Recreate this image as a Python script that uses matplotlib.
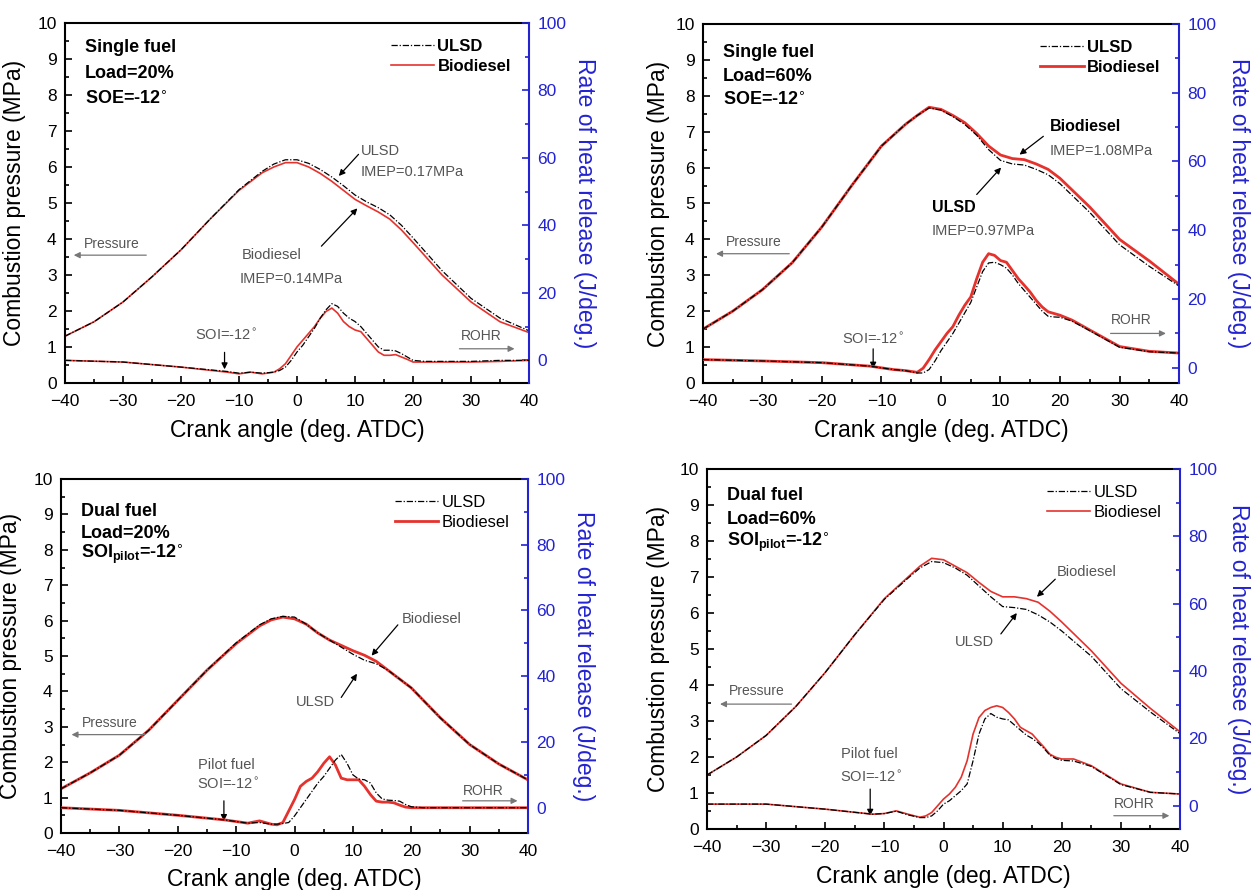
import matplotlib.pyplot as plt
from matplotlib.ticker import MultipleLocator

plt.rcParams['font.family'] = ['Liberation Sans', 'DejaVu Sans']

RED = '#e5322d'
BLUE = '#2323d2'
GREY = '#555555'

# crank angle grids (deg. ATDC)
ang_p = [-40, -35, -30, -25, -20, -15, -10, -6, -4, -2, 0, 2, 4, 6, 8, 10,
         12, 14, 16, 18, 20, 25, 30, 35, 40]
ang_r = [-40, -30, -20, -12, -10, -8, -6, -4, -3, -2, -1, 0, 1, 2, 3, 4, 5,
         6, 7, 8, 9, 10, 11, 12, 13, 14, 15, 16, 17, 18, 19, 20, 22, 25, 30,
         35, 40]

# single fuel, load 20 %
sf20_p_ulsd = [1.3, 1.7, 2.25, 2.95, 3.7, 4.55, 5.37, 5.88, 6.08, 6.2, 6.2,
               6.1, 5.93, 5.72, 5.48, 5.22, 5.03, 4.87, 4.67, 4.38, 4.03, 3.12,
               2.35, 1.8, 1.45]
sf20_p_bio = [1.3, 1.7, 2.25, 2.95, 3.7, 4.55, 5.35, 5.84, 6.0, 6.12, 6.12,
              6.0, 5.82, 5.6, 5.35, 5.1, 4.92, 4.75, 4.55, 4.25, 3.9, 3.0,
              2.25, 1.7, 1.4]
sf20_r_ulsd = [0, -0.5, -2, -3.3, -3.8, -3.5, -3.8, -3.5, -3, -2, 0, 2.5, 4.5,
               7, 9.5, 12.5, 15, 16.8, 16, 14, 12.5, 11.5, 10, 8, 6, 4, 3, 3,
               2.8, 2, 1, 0, -0.3, -0.3, -0.3, 0, 0]
sf20_r_bio = [0, -0.5, -2, -3.5, -4, -3.5, -4, -3.5, -2.5, -1, 1.5, 4, 6, 8,
              10, 12.5, 14.5, 15.5, 14, 11.5, 10, 9, 8.5, 6.5, 4.5, 2.5, 1.5,
              1.5, 1.7, 1, 0.3, -0.5, -0.5, -0.5, -0.5, -0.3, 0]

# single fuel, load 60 %
sf60_p_ulsd = [1.5, 2.0, 2.6, 3.35, 4.35, 5.5, 6.6, 7.2, 7.45, 7.66, 7.6, 7.42,
               7.2, 6.9, 6.5, 6.2, 6.1, 6.07, 5.95, 5.8, 5.55, 4.75, 3.85, 3.25,
               2.7]
sf60_p_bio = [1.5, 2.0, 2.6, 3.35, 4.35, 5.5, 6.6, 7.2, 7.45, 7.68, 7.62, 7.45,
              7.25, 6.95, 6.6, 6.35, 6.25, 6.22, 6.1, 5.95, 5.7, 4.9, 4.0, 3.4,
              2.75]
sf60_r_ulsd = [2.4, 2, 1.5, 0.5, 0, -0.5, -0.8, -1.5, -1.5, -0.5, 2, 5, 7.5,
               10, 13, 16, 19, 23.5, 28, 30.5, 30.7, 30, 29, 27, 24.5, 22.5,
               20.5, 18.5, 16.5, 15, 14.8, 14.7, 13.6, 10.8, 6, 4.7, 4.3]
sf60_r_bio = [2.4, 2, 1.5, 0.5, 0, -0.5, -0.8, -1.3, -0.1, 2.4, 5.2, 7.6, 10,
              12, 15.3, 18.2, 20.6, 25.9, 30.7, 33.2, 32.7, 31.2, 30.7, 28.3,
              25.9, 24, 22, 19.6, 17.7, 16.3, 15.8, 15.3, 13.9, 11, 6.2, 4.8,
              4.3]

# dual fuel, load 20 %
df20_p_ulsd = [1.25, 1.7, 2.2, 2.9, 3.75, 4.6, 5.37, 5.88, 6.05, 6.12, 6.1,
               5.9, 5.65, 5.45, 5.25, 5.05, 4.88, 4.78, 4.6, 4.35, 4.1, 3.25,
               2.5, 1.95, 1.5]
df20_p_bio = [1.25, 1.7, 2.2, 2.9, 3.75, 4.6, 5.35, 5.85, 6.02, 6.1, 6.05, 5.9,
              5.65, 5.45, 5.3, 5.15, 5.02, 4.85, 4.6, 4.35, 4.1, 3.25, 2.5,
              1.95, 1.5]
df20_r_ulsd = [0, -0.8, -2.3, -3.7, -4.2, -4.7, -4.5, -5, -5, -4.8, -4.5, -2.5,
               0, 2.5, 5, 7.5, 9.5, 12, 14.5, 16.2, 13.5, 10, 8.7, 8.5, 7.5,
               4.5, 2.7, 2.3, 2.2, 2, 1, 0.3, 0, 0, 0, 0, 0]
df20_r_bio = [0, -0.8, -2.3, -3.7, -4.2, -4.7, -4, -5, -5.2, -4.5, -1, 2.5,
              6.5, 8, 9, 11, 13.5, 15.5, 13, 9, 8.5, 8.5, 8.5, 6.5, 4, 2, 1.7,
              1.7, 1.5, 0.8, 0.2, 0, 0, 0, 0, 0, 0]

# dual fuel, load 60 %
df60_p_ulsd = [1.5, 2.0, 2.6, 3.4, 4.35, 5.4, 6.38, 6.97, 7.25, 7.43, 7.4,
               7.25, 7.05, 6.75, 6.45, 6.18, 6.15, 6.1, 5.95, 5.75, 5.5, 4.8,
               3.9, 3.25, 2.65]
df60_p_bio = [1.5, 2.0, 2.6, 3.4, 4.35, 5.4, 6.4, 7.0, 7.3, 7.52, 7.48, 7.3,
              7.12, 6.85, 6.6, 6.45, 6.45, 6.4, 6.3, 6.05, 5.75, 4.95, 4.05,
              3.35, 2.7]
df60_r_ulsd = [0.5, 0.5, -1, -2.5, -2.3, -1.6, -2.7, -3.5, -3.5, -3, -1.5, 0.5,
               1.5, 3, 4.5, 6.5, 13.4, 21.3, 25.8, 27.4, 26.3, 25.8, 25.5, 24,
               22.5, 21, 20, 18.7, 17, 15, 14, 13.5, 13.3, 11.7, 6.3, 4, 3.5]
df60_r_bio = [0.5, 0.5, -1, -2.5, -2.3, -1.5, -2.5, -3.4, -3, -2, 0, 2, 3.5,
              5.5, 8.5, 13.4, 21.3, 26.2, 28.3, 29.2, 29.7, 29.2, 27.7, 25.8,
              23.3, 22.3, 21.3, 19.3, 17.4, 15.3, 14.4, 13.9, 13.9, 11.9, 6.5,
              4, 3.5]

fig = plt.figure(figsize=(12.56, 8.9), dpi=100)


def arrow(ax, start, end, color='black', lw=0.9):
    ax.annotate('', xy=end, xytext=start,
                arrowprops=dict(arrowstyle='-|>', color=color, lw=lw,
                                mutation_scale=9, shrinkA=0, shrinkB=0))


def panel(rect, p_ulsd, p_bio, r_ulsd, r_bio, rmin, header, head_y, head_dy,
          bold_leg, red_lw, ylab_x, rlab_x):
    ax = fig.add_axes(rect)
    ax2 = ax.twinx()

    bio, = ax.plot(ang_p, p_bio, color=RED, lw=red_lw, zorder=2)
    ulsd, = ax.plot(ang_p, p_ulsd, color='black', lw=0.9,
                    ls=(0, (5, 1.5, 1, 1.5)), zorder=3)
    ax2.plot(ang_r, r_bio, color=RED, lw=red_lw, zorder=2)
    ax2.plot(ang_r, r_ulsd, color='black', lw=0.9,
             ls=(0, (5, 1.5, 1, 1.5)), zorder=3)

    ax.set_xlim(-40, 40)
    ax.set_ylim(0, 10)
    ax2.set_ylim(rmin, 100)
    ax.xaxis.set_major_locator(MultipleLocator(10))
    ax.xaxis.set_minor_locator(MultipleLocator(5))
    ax.yaxis.set_major_locator(MultipleLocator(1))
    ax.yaxis.set_minor_locator(MultipleLocator(0.5))
    ax2.yaxis.set_major_locator(MultipleLocator(20))
    ax2.yaxis.set_minor_locator(MultipleLocator(10))

    ax.tick_params(which='both', direction='in', width=1.2, labelsize=12.5,
                   top=False, right=False)
    ax.tick_params(which='major', length=5)
    ax.tick_params(which='minor', length=3)
    ax.tick_params(axis='x', pad=8)
    ax.tick_params(axis='y', pad=6)
    ax2.tick_params(which='both', direction='in', width=1.2, colors=BLUE,
                    labelsize=12.5, pad=6)
    ax2.tick_params(which='major', length=5)
    ax2.tick_params(which='minor', length=3)

    for sp in ['left', 'bottom', 'top']:
        ax.spines[sp].set_linewidth(1.5)
        ax2.spines[sp].set_visible(False)
    ax.spines['right'].set_visible(False)
    ax2.spines['right'].set_color(BLUE)
    ax2.spines['right'].set_linewidth(1.5)

    ax.set_xlabel('Crank angle (deg. ATDC)', fontsize=16.5)
    ax.xaxis.set_label_coords(0.5, -0.10)
    ax.set_ylabel('Combustion pressure (MPa)', fontsize=16.5)
    ax.yaxis.set_label_coords(ylab_x, 0.5)
    ax2.set_ylabel('Rate of heat release (J/deg.)', fontsize=16.5,
                   color=BLUE, rotation=270, va='bottom')
    ax2.yaxis.set_label_coords(rlab_x, 0.5)

    for i, line in enumerate(header):
        ax.text(-36.6, head_y - head_dy * i, line, fontsize=13,
                fontweight='bold', va='center')

    ax.legend([ulsd, bio], ['ULSD', 'Biodiesel'], loc='upper right',
              bbox_to_anchor=(0.975, 0.975), borderaxespad=0, frameon=False,
              handlelength=2.6, handletextpad=0.2, labelspacing=0.3,
              prop=dict(size=12, weight='bold' if bold_leg else 'normal'))
    return ax


# ---- single fuel 20 %
ax = panel([0.0518, 0.5697, 0.3694, 0.4045], sf20_p_ulsd, sf20_p_bio,
           sf20_r_ulsd, sf20_r_bio, -6.7,
           ['Single fuel', 'Load=20%', 'SOE=-12$^{\\circ}$'], 9.33, 0.72,
           True, 1.2, -0.085, 1.095)
ax.text(11.0, 6.45, 'ULSD', fontsize=10.5, color=GREY, va='center')
ax.text(11.0, 5.85, 'IMEP=0.17MPa', fontsize=10.5, color=GREY, va='center')
arrow(ax, (10.6, 6.35), (7.2, 5.75))
ax.text(-9.6, 3.56, 'Biodiesel', fontsize=10.5, color=GREY, va='center')
ax.text(-9.9, 2.9, 'IMEP=0.14MPa', fontsize=10.5, color=GREY, va='center')
arrow(ax, (4.2, 3.8), (10.4, 4.85))
ax.text(-36.8, 3.86, 'Pressure', fontsize=10, color=GREY, va='center')
arrow(ax, (-26, 3.55), (-38.5, 3.55), color='#777777')
ax.text(28.2, 1.3, 'ROHR', fontsize=10, color=GREY, va='center')
arrow(ax, (28, 0.95), (37.5, 0.95), color='#777777')
ax.text(-12.3, 1.33, 'SOI=-12$^{\\circ}$', fontsize=10.5, color=GREY,
        ha='center', va='center')
arrow(ax, (-12.5, 0.85), (-12.5, 0.38))

# ---- single fuel 60 %
ax = panel([0.5597, 0.5697, 0.3790, 0.4034], sf60_p_ulsd, sf60_p_bio,
           sf60_r_ulsd, sf60_r_bio, -4.4,
           ['Single fuel', 'Load=60%', 'SOE=-12$^{\\circ}$'], 9.2, 0.67,
           True, 2.0, -0.07, 1.10)
ax.text(18.3, 7.14, 'Biodiesel', fontsize=11.5, fontweight='bold', va='center')
ax.text(18.2, 6.45, 'IMEP=1.08MPa', fontsize=10.5, color=GREY, va='center')
arrow(ax, (17.2, 6.87), (13.2, 6.36))
ax.text(-1.5, 4.88, 'ULSD', fontsize=11.5, fontweight='bold', va='center')
ax.text(-1.5, 4.24, 'IMEP=0.97MPa', fontsize=10.5, color=GREY, va='center')
arrow(ax, (6.0, 5.25), (10.1, 6.0))
ax.text(-36.2, 3.94, 'Pressure', fontsize=10, color=GREY, va='center')
arrow(ax, (-25.5, 3.6), (-37.8, 3.6), color='#777777')
ax.text(28.5, 1.75, 'ROHR', fontsize=10, color=GREY, va='center')
arrow(ax, (28.5, 1.38), (37.8, 1.38), color='#777777')
ax.text(-11.5, 1.2, 'SOI=-12$^{\\circ}$', fontsize=10.5, color=GREY,
        ha='center', va='center')
arrow(ax, (-11.4, 0.95), (-11.4, 0.4))

# ---- dual fuel 20 %
ax = panel([0.0486, 0.0640, 0.3718, 0.3978], df20_p_ulsd, df20_p_bio,
           df20_r_ulsd, df20_r_bio, -7.7,
           ['Dual fuel', 'Load=20%',
            'SOI$_{\\mathregular{pilot}}$=-12$^{\\circ}$'], 9.07, 0.6,
           False, 2.0, -0.084, 1.094)
ax.text(18.4, 6.04, 'Biodiesel', fontsize=10.5, color=GREY, va='center')
arrow(ax, (17.7, 5.88), (13.2, 5.01))
ax.text(0.3, 3.69, 'ULSD', fontsize=10.5, color=GREY, va='center')
arrow(ax, (8.0, 3.83), (10.7, 4.5))
ax.text(-36.4, 3.1, 'Pressure', fontsize=10, color=GREY, va='center')
arrow(ax, (-25.7, 2.78), (-38.2, 2.78), color='#777777')
ax.text(28.8, 1.19, 'ROHR', fontsize=10, color=GREY, va='center')
arrow(ax, (28.8, 0.91), (38.2, 0.91), color='#777777')
ax.text(-11.6, 1.91, 'Pilot fuel', fontsize=10.5, color=GREY, ha='center',
        va='center')
ax.text(-11.4, 1.37, 'SOI=-12$^{\\circ}$', fontsize=10.5, color=GREY,
        ha='center', va='center')
arrow(ax, (-12.1, 0.91), (-12.1, 0.34))

# ---- dual fuel 60 %
ax = panel([0.5629, 0.0685, 0.3766, 0.4045], df60_p_ulsd, df60_p_bio,
           df60_r_ulsd, df60_r_bio, -6.9,
           ['Dual fuel', 'Load=60%',
            'SOI$_{\\mathregular{pilot}}$=-12$^{\\circ}$'], 9.26, 0.65,
           False, 1.2, -0.078, 1.10)
ax.text(19.2, 7.13, 'Biodiesel', fontsize=10.5, color=GREY, va='center')
arrow(ax, (18.9, 6.94), (15.8, 6.45))
ax.text(1.9, 5.19, 'ULSD', fontsize=10.5, color=GREY, va='center')
arrow(ax, (9.7, 5.42), (12.4, 6.0))
ax.text(-36.3, 3.84, 'Pressure', fontsize=10, color=GREY, va='center')
arrow(ax, (-25.7, 3.47), (-37.8, 3.47), color='#777777')
ax.text(28.8, 0.69, 'ROHR', fontsize=10, color=GREY, va='center')
arrow(ax, (28.8, 0.37), (38.2, 0.37), color='#777777')
ax.text(-12.5, 2.08, 'Pilot fuel', fontsize=10.5, color=GREY, ha='center',
        va='center')
ax.text(-12.2, 1.44, 'SOI=-12$^{\\circ}$', fontsize=10.5, color=GREY,
        ha='center', va='center')
arrow(ax, (-12.4, 1.11), (-12.4, 0.37))

fig.savefig('out.png', dpi=100)
